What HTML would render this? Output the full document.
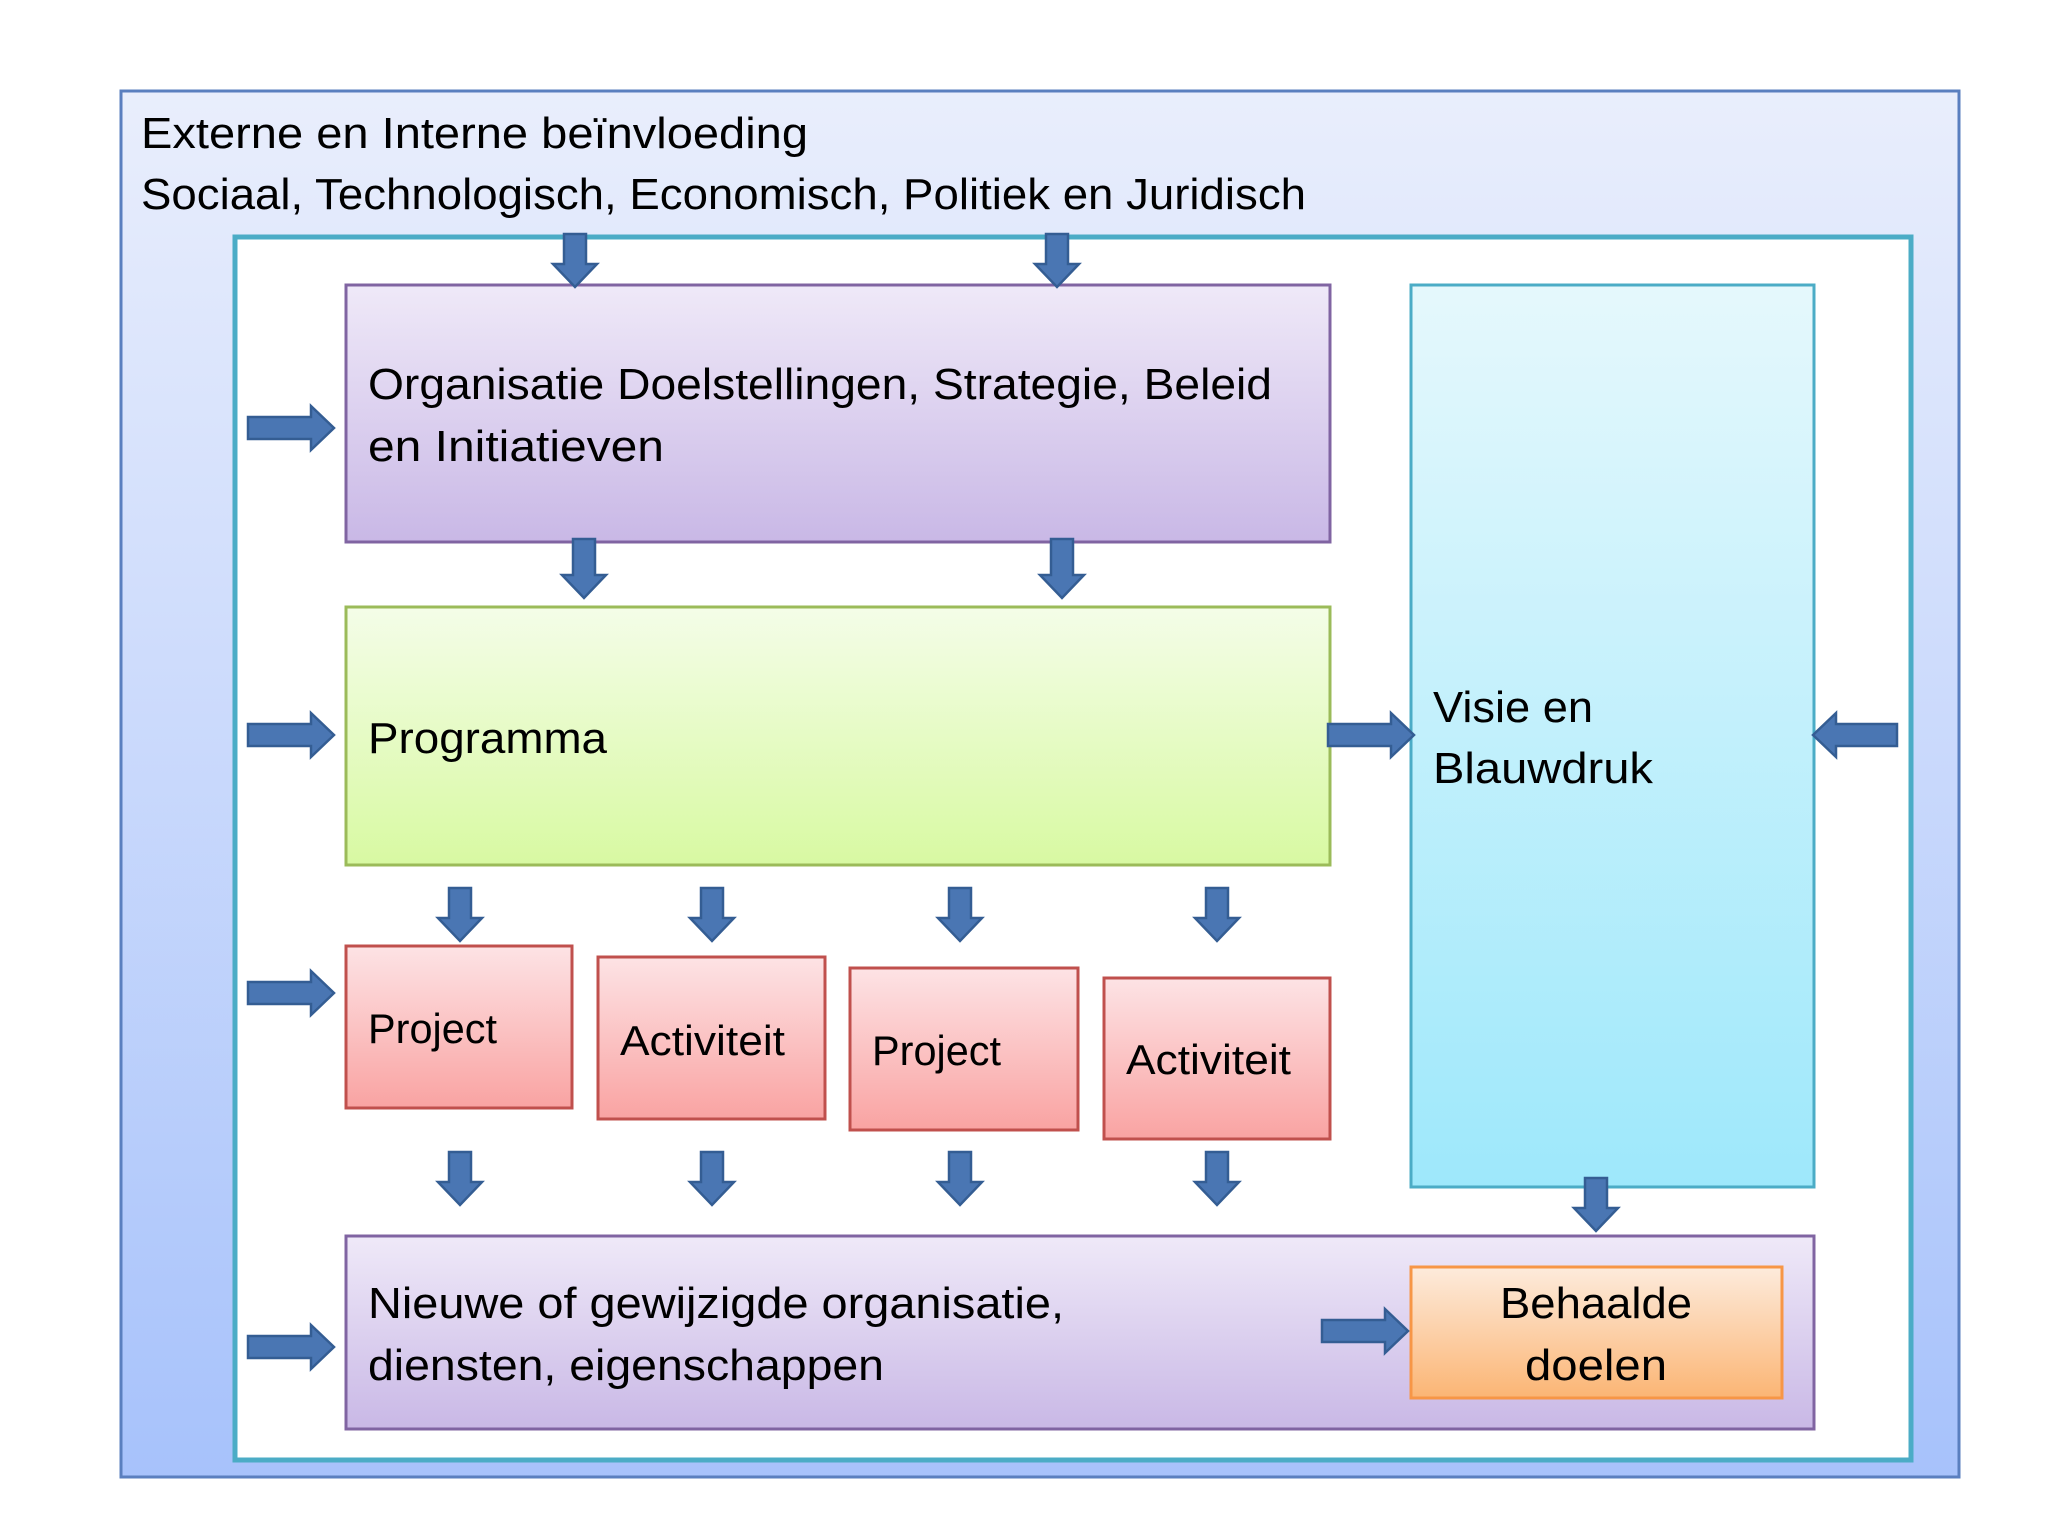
<!DOCTYPE html>
<html><head><meta charset="utf-8"><style>
html,body{margin:0;padding:0;background:#fff}
svg{display:block}
text{font-family:"Liberation Sans",sans-serif;fill:#000}
</style></head><body>
<svg width="2048" height="1536" viewBox="0 0 2048 1536" xmlns="http://www.w3.org/2000/svg">
<defs>
<linearGradient id="gOut" x1="0" y1="0" x2="0" y2="1"><stop offset="0" stop-color="#e9eefc"/><stop offset="1" stop-color="#a7c2fb"/></linearGradient>
<linearGradient id="gPur" x1="0" y1="0" x2="0" y2="1"><stop offset="0" stop-color="#efe9f8"/><stop offset="1" stop-color="#c9b8e6"/></linearGradient>
<linearGradient id="gGrn" x1="0" y1="0" x2="0" y2="1"><stop offset="0" stop-color="#f4fde8"/><stop offset="1" stop-color="#d8f9a2"/></linearGradient>
<linearGradient id="gCy" x1="0" y1="0" x2="0" y2="1"><stop offset="0" stop-color="#e5f8fc"/><stop offset="1" stop-color="#9ee8fb"/></linearGradient>
<linearGradient id="gRed" x1="0" y1="0" x2="0" y2="1"><stop offset="0" stop-color="#fde3e5"/><stop offset="1" stop-color="#f9a3a2"/></linearGradient>
<linearGradient id="gOr" x1="0" y1="0" x2="0" y2="1"><stop offset="0" stop-color="#fdebdc"/><stop offset="1" stop-color="#fbb574"/></linearGradient>
</defs>
<rect x="121" y="91" width="1838" height="1386" fill="url(#gOut)" stroke="#5a7fbf" stroke-width="3"/>
<text x="141" y="148" font-size="44" textLength="667" lengthAdjust="spacingAndGlyphs">Externe en Interne beïnvloeding</text>
<text x="141" y="209" font-size="44" textLength="1165" lengthAdjust="spacingAndGlyphs">Sociaal, Technologisch, Economisch, Politiek en Juridisch</text>
<rect x="235" y="237" width="1676" height="1223" fill="#fff" stroke="#4bacc6" stroke-width="5"/>
<rect x="346" y="285" width="984" height="257" fill="url(#gPur)" stroke="#8064a2" stroke-width="3"/>
<text x="368" y="399" font-size="44" textLength="904" lengthAdjust="spacingAndGlyphs">Organisatie Doelstellingen, Strategie, Beleid</text>
<text x="368" y="461" font-size="44" textLength="296" lengthAdjust="spacingAndGlyphs">en Initiatieven</text>
<rect x="346" y="607" width="984" height="258" fill="url(#gGrn)" stroke="#9bbb59" stroke-width="3"/>
<text x="368" y="753" font-size="44" textLength="239" lengthAdjust="spacingAndGlyphs">Programma</text>
<rect x="1411" y="285" width="403" height="902" fill="url(#gCy)" stroke="#4bacc6" stroke-width="3"/>
<text x="1433" y="722" font-size="44" textLength="160" lengthAdjust="spacingAndGlyphs">Visie en</text>
<text x="1433" y="783" font-size="44" textLength="220" lengthAdjust="spacingAndGlyphs">Blauwdruk</text>
<g fill="url(#gRed)" stroke="#c0504d" stroke-width="3">
<rect x="346" y="946" width="226" height="162"/>
<rect x="598" y="957" width="227" height="162"/>
<rect x="850" y="968" width="228" height="162"/>
<rect x="1104" y="978" width="226" height="161"/>
</g>
<text x="368" y="1043" font-size="42" textLength="129" lengthAdjust="spacingAndGlyphs">Project</text>
<text x="620" y="1055" font-size="42" textLength="165" lengthAdjust="spacingAndGlyphs">Activiteit</text>
<text x="872" y="1065" font-size="42" textLength="129" lengthAdjust="spacingAndGlyphs">Project</text>
<text x="1126" y="1074" font-size="42" textLength="165" lengthAdjust="spacingAndGlyphs">Activiteit</text>
<rect x="346" y="1236" width="1468" height="193" fill="url(#gPur)" stroke="#8064a2" stroke-width="3"/>
<text x="368" y="1318" font-size="44" textLength="696" lengthAdjust="spacingAndGlyphs">Nieuwe of gewijzigde organisatie,</text>
<text x="368" y="1380" font-size="44" textLength="516" lengthAdjust="spacingAndGlyphs">diensten, eigenschappen</text>
<rect x="1411" y="1267" width="371" height="131" fill="url(#gOr)" stroke="#f79646" stroke-width="3"/>
<text x="1596" y="1318" font-size="44" text-anchor="middle" textLength="192" lengthAdjust="spacingAndGlyphs">Behaalde</text>
<text x="1596" y="1380" font-size="44" text-anchor="middle" textLength="142" lengthAdjust="spacingAndGlyphs">doelen</text>
<g fill="#4a76b3" stroke="#345d93" stroke-width="2.5" stroke-linejoin="miter">
<!-- down arrows -->
<path d="M564 234H586V264H597L575 287L553 264H564Z"/>
<path d="M1046 234H1068V264H1079L1057 287L1035 264H1046Z"/>
<path d="M573 539H595V575H606L584 598L562 575H573Z"/>
<path d="M1051 539H1073V575H1084L1062 598L1040 575H1051Z"/>
<path d="M449 888H471V918H482L460 941L438 918H449Z"/>
<path d="M701 888H723V918H734L712 941L690 918H701Z"/>
<path d="M949 888H971V918H982L960 941L938 918H949Z"/>
<path d="M1206 888H1228V918H1239L1217 941L1195 918H1206Z"/>
<path d="M449 1152H471V1182H482L460 1205L438 1182H449Z"/>
<path d="M701 1152H723V1182H734L712 1205L690 1182H701Z"/>
<path d="M949 1152H971V1182H982L960 1205L938 1182H949Z"/>
<path d="M1206 1152H1228V1182H1239L1217 1205L1195 1182H1206Z"/>
<path d="M1585 1178H1607V1208H1618L1596 1231L1574 1208H1585Z"/>
<!-- right arrows -->
<path d="M248 417H311V406L334 428L311 450V439H248Z"/>
<path d="M248 724H311V713L334 735L311 757V746H248Z"/>
<path d="M248 982H311V971L334 993L311 1015V1004H248Z"/>
<path d="M248 1336H311V1325L334 1347L311 1369V1358H248Z"/>
<path d="M1328 724H1391V713L1414 735L1391 757V746H1328Z"/>
<path d="M1322 1320H1385V1309L1408 1331L1385 1353V1342H1322Z"/>
<!-- left arrow -->
<path d="M1897 724H1836V713L1813 735L1836 757V746H1897Z"/>
</g>
</svg>
</body></html>
